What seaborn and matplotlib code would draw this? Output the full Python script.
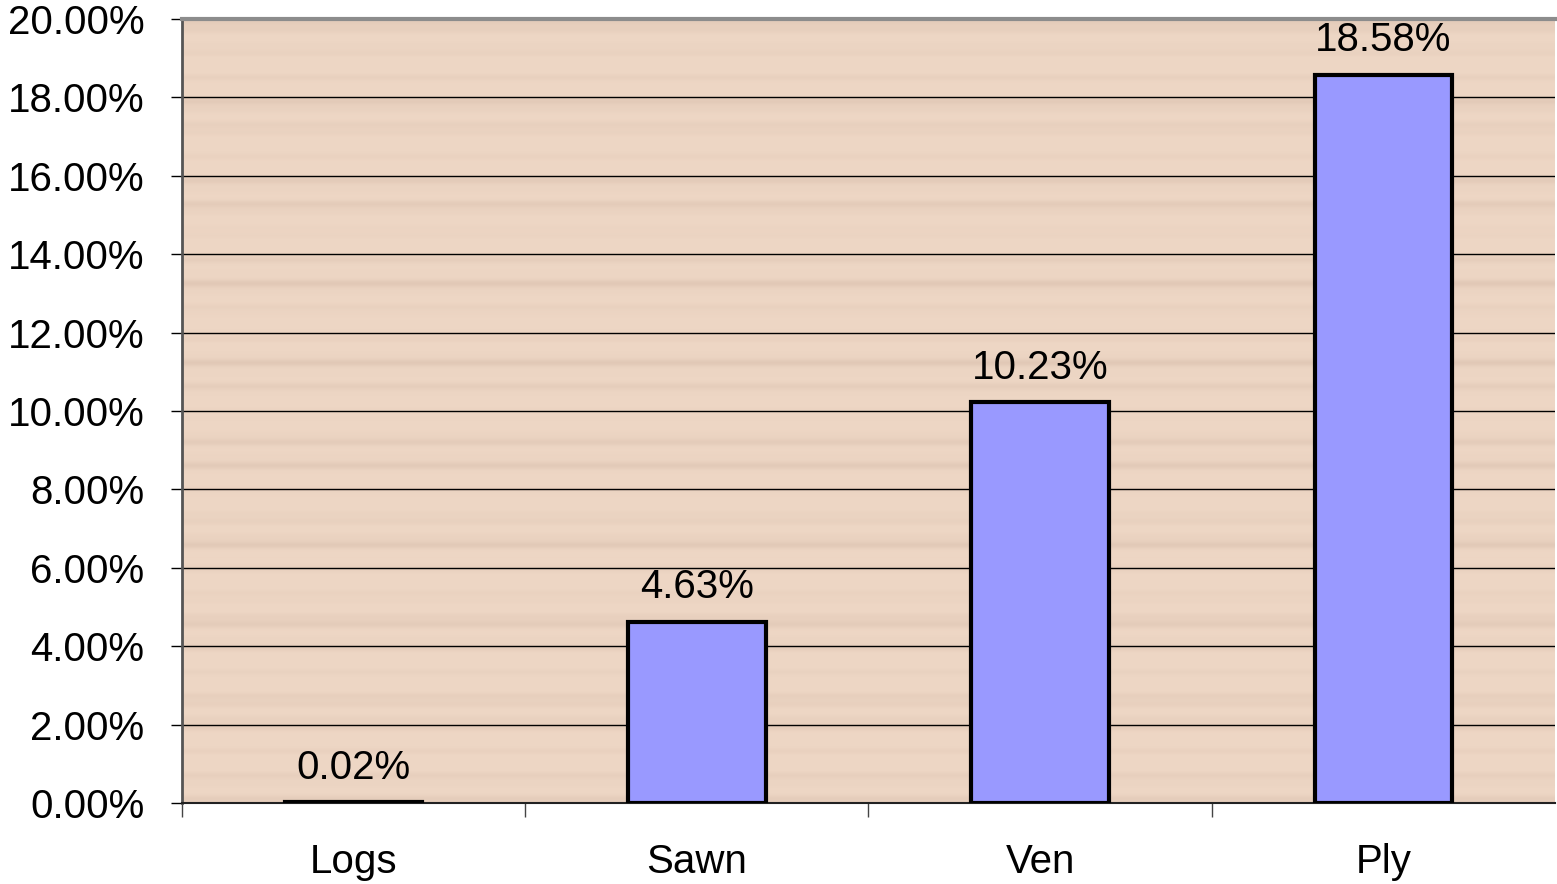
import numpy as np
import pandas as pd
import matplotlib
matplotlib.use("Agg")
import matplotlib.pyplot as plt
import seaborn as sns
from matplotlib.ticker import FuncFormatter, FixedLocator

categories = ["Logs", "Sawn", "Ven", "Ply"]
values = [0.02, 4.63, 10.23, 18.58]  # percent
y_ticks = [0, 2, 4, 6, 8, 10, 12, 14, 16, 18, 20]

df = pd.DataFrame({"Product": categories, "Share": values})

sns.set_style("white")
plt.rcParams["font.family"] = ["Liberation Sans", "DejaVu Sans"]
plt.rcParams["text.color"] = "black"
plt.rcParams["xtick.color"] = "black"
plt.rcParams["ytick.color"] = "black"

fig = plt.figure(figsize=(15.57, 8.84), dpi=100)
ax = fig.add_axes([0.1169, 0.0916, 0.8818, 0.8869])

# wood-grain style background (decorative horizontal streaks)
rows = np.linspace(0, 1, 600)
grain = (0.5 * np.sin(rows * 190) + 0.3 * np.sin(rows * 57 + 1.3)
         + 0.2 * np.sin(rows * 431 + 0.7))
base = np.array([238, 215, 197]) / 255.0
dark = np.array([216, 190, 172]) / 255.0
t = np.clip((grain + 1) / 2, 0, 1)[:, None] ** 3
tex = base * (1 - 0.6 * t) + dark * (0.6 * t)
ax.imshow(tex[:, None, :], aspect="auto", extent=(-0.5, 3.5, 0, 20),
          zorder=0, interpolation="bilinear")

sns.barplot(data=df, x="Product", y="Share", color="#9999FF", saturation=1,
            edgecolor="black", linewidth=3, width=0.4, ax=ax, zorder=3)

ax.set_xlim(-0.5, 3.5)
ax.set_ylim(0, 20)
ax.yaxis.set_major_locator(FixedLocator(y_ticks))
ax.yaxis.set_major_formatter(FuncFormatter(lambda v, p: f"{v:.2f}%"))
ax.grid(axis="y", color="black", linewidth=1, zorder=1)
for line in ax.get_ygridlines():
    line.set_zorder(1)

ax.bar_label(ax.containers[0], labels=[f"{v:.2f}%" for v in values],
             padding=11, fontsize=29, color="black")

ax.set_xlabel("")
ax.set_ylabel("")
ax.tick_params(axis="y", which="major", left=True, length=8, width=1,
               pad=19, labelsize=29, color="black", labelcolor="black")
ax.tick_params(axis="x", which="major", length=0, pad=29, labelsize=29,
               labelcolor="black")
ax.set_xticks([-0.5 + 1e-9, 0.5, 1.5, 2.5], minor=True)
ax.tick_params(axis="x", which="minor", bottom=True, length=10, width=1,
               color="#444444")

ax.spines["top"].set_color("#8c8c8c")
ax.spines["top"].set_linewidth(3)
ax.spines["left"].set_color("#555555")
ax.spines["left"].set_linewidth(2)
ax.spines["bottom"].set_color("#222222")
ax.spines["bottom"].set_linewidth(1.5)
ax.spines["right"].set_visible(False)

fig.savefig("out.png", dpi=100)
